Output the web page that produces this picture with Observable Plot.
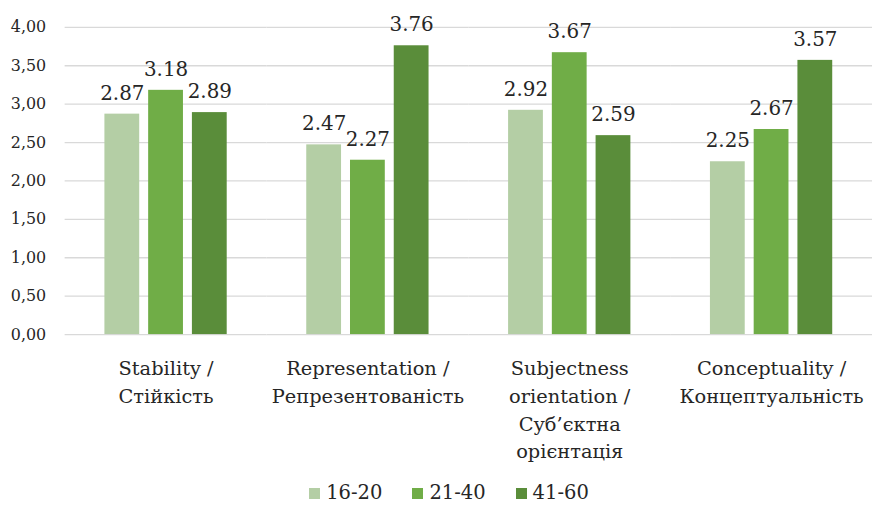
<!DOCTYPE html>
<html>
<head>
<meta charset="utf-8">
<script src="https://cdn.jsdelivr.net/npm/d3@7"></script>
<script src="https://cdn.jsdelivr.net/npm/@observablehq/plot@0.6"></script>
<style>
  html, body { margin: 0; padding: 0; background: #fff; }
  body { width: 872px; height: 505px; overflow: hidden; font-family: "DejaVu Serif", serif; }
  #chart { width: 872px; height: 462px; overflow: hidden; }
  #legend { display: flex; justify-content: center; align-items: center; gap: 30px; height: 18px; line-height: 18px; padding-top: 22px; font-size: 19.5px; color: #262626; margin-left: 26px; }
  #legend .item { display: flex; align-items: center; gap: 6px; }
  #legend .sw { width: 11px; height: 11px; display: inline-block; }
</style>
</head>
<body>
<div id="chart"></div>
<div id="legend"></div>
<script>
const categories = [
  "Stability /\nСтійкість",
  "Representation /\nРепрезентованість",
  "Subjectness\norientation /\nСуб’єктна\nорієнтація",
  "Conceptuality /\nКонцептуальність"
];
const series = ["16-20", "21-40", "41-60"];
const values1620 = [2.87, 2.47, 2.92, 2.25];
const values2140 = [3.18, 2.27, 3.67, 2.67];
const values4160 = [2.89, 3.76, 2.59, 3.57];
const colors = ["#B4CEA5", "#70AD47", "#5A8D3A"];
const yTicks = [0, 0.5, 1, 1.5, 2, 2.5, 3, 3.5, 4];

const seriesValues = [values1620, values2140, values4160];
const data = [];
categories.forEach((c, i) => {
  series.forEach((s, j) => data.push({cat: c, series: s, value: seriesValues[j][i]}));
});

const fmtComma = d => d.toFixed(2).replace(".", ",");

const chart = Plot.plot({
  width: 877,
  height: 462,
  marginLeft: 64,
  marginRight: 0,
  marginTop: 27,
  marginBottom: 126,
  style: {fontFamily: "'DejaVu Serif', serif", color: "#262626", background: "#fff", overflow: "visible"},
  fx: {domain: categories, padding: 0, label: null},
  x: {domain: series, paddingInner: 0.21, paddingOuter: 0.864, axis: null},
  y: {domain: [0, 4], label: null},
  color: {domain: series, range: colors},
  marks: [
    Plot.gridY(yTicks, {stroke: "#D9D9D9", strokeOpacity: 1, strokeWidth: 1.3}),
    Plot.axisY(yTicks, {tickSize: 0, tickPadding: 19, fontSize: 16, tickFormat: fmtComma, label: null}),
    Plot.axisFx({anchor: "bottom", tickSize: 0, tickPadding: 21, fontSize: 19.5, lineHeight: 1.43, label: null}),
    Plot.barY(data, {fx: "cat", x: "series", y: "value", fill: "series"}),
    Plot.text(data, {fx: "cat", x: "series", y: "value", text: d => d.value.toFixed(2), dy: -21, fontSize: 20, fill: "#262626"})
  ]
});
document.getElementById("chart").appendChild(chart);

const legend = document.getElementById("legend");
series.forEach((s, j) => {
  const item = document.createElement("div");
  item.className = "item";
  const sw = document.createElement("span");
  sw.className = "sw";
  sw.style.background = colors[j];
  const t = document.createElement("span");
  t.textContent = s;
  item.appendChild(sw);
  item.appendChild(t);
  legend.appendChild(item);
});
</script>
</body>
</html>
